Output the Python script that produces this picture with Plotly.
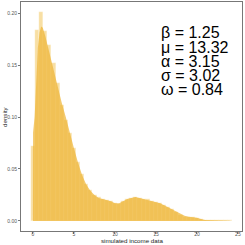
import plotly.graph_objects as go

# histogram bins (centers, width 0.5) and bar heights (density)
bin_centers = [i * 0.5 for i in range(49)]
bar_heights = [0.072, 0.184, 0.201, 0.183, 0.169, 0.152, 0.133, 0.112, 0.097, 0.085,
               0.070, 0.057, 0.045, 0.036, 0.030, 0.025, 0.023, 0.021, 0.020, 0.019,
               0.017, 0.016, 0.019, 0.021, 0.022, 0.023, 0.022, 0.021, 0.021, 0.019,
               0.018, 0.017, 0.015, 0.013, 0.011, 0.009, 0.006, 0.004, 0.004, 0.004,
               0.003, 0.0015, 0.001, 0.001, 0.0008, 0.0008, 0.0006, 0.0006, 0.0006]

# density curve
dens_x = [0, 0.01, 0.2, 0.4, 0.6, 0.8, 1.0, 1.2, 1.5, 2.0, 2.5, 3.0, 3.5, 4.0, 4.5, 5.0,
          5.5, 6.0, 6.5, 7.0, 7.5, 8.0, 8.5, 9.0, 9.5, 10.0, 10.5, 11.0, 11.5, 12.0,
          12.5, 13.0, 13.5, 14.0, 14.5, 15.0, 15.5, 16.0, 16.5, 17.0, 17.5, 18.0,
          18.5, 19.0, 19.5, 20.0, 20.5, 21.0, 22.0, 23.0, 24.0]
dens_y = [0.0, 0.085, 0.100, 0.140, 0.167, 0.181, 0.187, 0.186, 0.178, 0.162, 0.146,
          0.128, 0.114, 0.100, 0.084, 0.070, 0.056, 0.044, 0.035, 0.029, 0.025, 0.022,
          0.021, 0.020, 0.019, 0.017, 0.017, 0.019, 0.021, 0.022, 0.023, 0.022, 0.021,
          0.020, 0.019, 0.018, 0.017, 0.015, 0.013, 0.011, 0.009, 0.007, 0.005, 0.004,
          0.0036, 0.003, 0.0018, 0.001, 0.0006, 0.0003, 0.0002]

param_labels = ["β = 1.25", "μ = 13.32", "α = 3.15", "σ = 3.02", "ω = 0.84"]
x_title = "simulated income data"
y_title = "density"

x_ticks = [0, 5, 10, 15, 20, 25]
y_ticks = [0.00, 0.05, 0.10, 0.15, 0.20]
y_tick_text = ["0.00", "0.05", "0.10", "0.15", "0.20"]

FONT = "Liberation Sans, Arial"

fig = go.Figure()
fig.add_trace(go.Bar(
    x=bin_centers, y=bar_heights, width=0.5,
    marker=dict(color="rgba(243,196,90,0.55)", line=dict(color="rgba(255,255,255,0.6)", width=0.4)),
    showlegend=False,
))
fig.add_trace(go.Scatter(
    x=dens_x, y=dens_y, mode="lines", fill="tozeroy",
    line=dict(color="rgba(238,182,55,0.0)", width=0),
    fillcolor="rgba(238,182,55,0.72)",
    showlegend=False,
))

line_y = [0.868, 0.803, 0.741, 0.680, 0.618]
for txt, yy in zip(param_labels, line_y):
    fig.add_annotation(
        text=txt, xref="paper", yref="paper", x=0.623, y=yy,
        xanchor="left", yanchor="middle", showarrow=False,
        font=dict(family=FONT, size=16, color="black"),
    )

# axis titles
fig.add_annotation(text=x_title, xref="paper", yref="paper", x=0.5, y=0,
                   xanchor="center", yanchor="middle", yshift=-9.5, showarrow=False,
                   font=dict(family=FONT, size=6.2, color="#222222"))
fig.add_annotation(text=y_title, xref="paper", yref="paper", x=0, y=0.5,
                   xanchor="center", yanchor="middle", xshift=-16.5, textangle=-90,
                   showarrow=False, font=dict(family=FONT, size=6.2, color="#222222"))

axis_common = dict(
    showgrid=False, zeroline=False, showline=True, linecolor="#777777", linewidth=1,
    mirror=True, ticks="outside", ticklen=2, tickcolor="#777777", tickwidth=0.8,
    tickfont=dict(family=FONT, size=5, color="#555555"),
)

fig.update_layout(
    width=245, height=245,
    margin=dict(l=21, r=3, t=2, b=14),
    paper_bgcolor="white", plot_bgcolor="white",
    bargap=0,
    xaxis=dict(range=[-1.46, 25.5], tickvals=x_ticks, automargin=False,
               ticklabelstandoff=-4, **axis_common),
    yaxis=dict(range=[-0.0097, 0.2107], tickvals=y_ticks, ticktext=y_tick_text,
               automargin=False, **axis_common),
)

fig.write_html("out.html", config={"displayModeBar": False},
               post_script="document.body.style.margin='0';document.body.style.overflow='hidden';")
